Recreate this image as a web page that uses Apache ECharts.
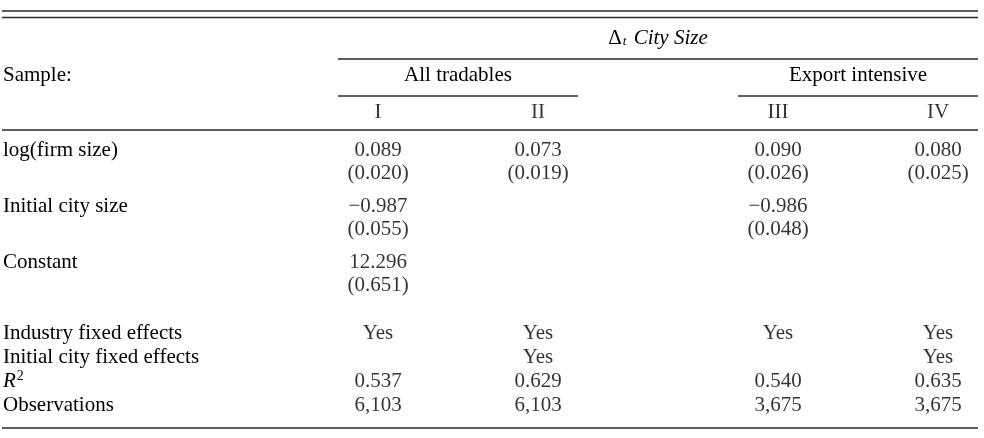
<!DOCTYPE html>
<html>
<head>
<meta charset="utf-8">
<script src="https://cdn.jsdelivr.net/npm/echarts@6/dist/echarts.min.js"></script>
<style>
    html, body { margin: 0; padding: 0; background: #fff; }
    #chart { width: 984px; height: 438px; }
</style>
</head>
<body>
<div id="chart"></div>
<script>
// columns of the table, spread over equal slots (spacer slots keep the gaps)
const colSlots = ['s0', 's1', 's2', 's3', 'I', 's5', 'II', 's7', 's8', 'III', 's10', 'IV'];
const columns = ['I', 'II', 'III', 'IV'];

// header
const headerRows = ['title', 'Sample:', 'number'];
const spanTitle = '{d|Δ}{sub|t}{it| City Size}';
const sampleGroups = ['All tradables', 'Export intensive'];
const groupFrom = ['I', 'III'];
const groupTo = ['II', 'IV'];

// coefficients (estimate + standard error)
const coefRows = ['log(firm size)', 'Initial city size', 'Constant'];
const estLogFirmSize = ['0.089', '0.073', '0.090', '0.080'];
const seLogFirmSize = ['0.020', '0.019', '0.026', '0.025'];
const estInitialCity = ['\u22120.987', null, '\u22120.986', null];
const seInitialCity = ['0.055', null, '0.048', null];
const estConstant = ['12.296', null, null, null];
const seConstant = ['0.651', null, null, null];

// bottom block
const statRows = ['Industry fixed effects', 'Initial city fixed effects', 'R2', 'Observations'];
const industryFE = ['Yes', 'Yes', 'Yes', 'Yes'];
const cityFE = [null, 'Yes', null, 'Yes'];
const rSquared = ['0.537', '0.629', '0.540', '0.635'];
const observations = ['6,103', '6,103', '3,675', '3,675'];

const FONT = '"Liberation Serif", "Times New Roman", serif';
const INK = '#000';
const RULE = '#2a2a2a';

// build cell data
const coefEst = [estLogFirmSize, estInitialCity, estConstant];
const coefSe = [seLogFirmSize, seInitialCity, seConstant];
const coefCells = [];
coefRows.forEach((row, r) => {
    columns.forEach((col, c) => {
        if (coefEst[r][c] != null) {
            coefCells.push([col, row, coefEst[r][c] + '\n(' + coefSe[r][c] + ')']);
        }
    });
});
const statValues = [industryFE, cityFE, rSquared, observations];
const statCells = [];
statRows.forEach((row, r) => {
    columns.forEach((col, c) => {
        if (statValues[r][c] != null) statCells.push([col, row, statValues[r][c]]);
    });
});
const numberCells = columns.map(col => [col, 'number', col]);

const spanTexts = [spanTitle].concat(sampleGroups);
const spanData = [
    [colSlots.indexOf('I'), colSlots.indexOf('IV'), 0],
    [colSlots.indexOf(groupFrom[0]), colSlots.indexOf(groupTo[0]), 1],
    [colSlots.indexOf(groupFrom[1]), colSlots.indexOf(groupTo[1]), 1]
];

const chart = echarts.init(document.getElementById('chart'), null, { renderer: 'canvas' });

const textRich = {
    d: { fontFamily: FONT, fontSize: 21, color: INK },
    sub: { fontFamily: FONT, fontSize: 13, fontStyle: 'italic', color: INK, verticalAlign: 'bottom', padding: [0, 2, 0, 1] },
    it: { fontFamily: FONT, fontSize: 21, fontStyle: 'italic', color: INK },
    sup: { fontFamily: FONT, fontSize: 14, color: INK, verticalAlign: 'top', padding: [0, 0, 0, 1] }
};

function hiddenX(gridIndex) {
    return { type: 'category', gridIndex: gridIndex, data: colSlots, show: false };
}
function rowAxis(gridIndex, rows, formatter, lineHeight) {
    return {
        type: 'category', gridIndex: gridIndex, data: rows, inverse: true,
        axisLine: { show: false }, axisTick: { show: false }, splitLine: { show: false },
        axisLabel: {
            interval: 0, align: 'left', margin: 15,
            fontFamily: FONT, fontSize: 21, color: INK, lineHeight: lineHeight,
            formatter: formatter, rich: textRich
        }
    };
}
function cellSeries(gridIndex, data, lineHeight) {
    return {
        type: 'scatter', xAxisIndex: gridIndex, yAxisIndex: gridIndex,
        data: data, symbol: 'circle', symbolSize: 1, silent: true,
        itemStyle: { color: 'rgba(0,0,0,0)' },
        label: {
            show: true, position: 'inside', formatter: p => p.value[2],
            fontFamily: FONT, fontSize: 21, color: INK, lineHeight: lineHeight
        }
    };
}

const option = {
    animation: false,
    backgroundColor: '#fff',
    grid: [
        { left: 18, width: 960, top: 19.5, height: 111 },
        { left: 18, width: 960, top: 133.5, height: 168 },
        { left: 18, width: 960, top: 321, height: 96 }
    ],
    xAxis: [hiddenX(0), hiddenX(1), hiddenX(2)],
    yAxis: [
        rowAxis(0, headerRows, v => (v === 'Sample:' ? v : ''), 23),
        rowAxis(1, coefRows, v => v + '\n ', 23),
        rowAxis(2, statRows, v => (v === 'R2' ? '{it|R}{sup|2}' : v), 24)
    ],
    series: [
        {
            type: 'custom', xAxisIndex: 0, yAxisIndex: 0, silent: true,
            encode: { x: [0, 1], y: 2 },
            data: spanData,
            renderItem: function (params, api) {
                const a = api.coord([api.value(0), api.value(2)]);
                const b = api.coord([api.value(1), api.value(2)]);
                const half = api.size([1, 0])[0] / 2;
                const x0 = a[0] - half, x1 = b[0] + half;
                const y = a[1];
                return {
                    type: 'group',
                    children: [
                        {
                            type: 'text',
                            style: {
                                text: spanTexts[params.dataIndex], x: (x0 + x1) / 2, y: y,
                                align: 'center', verticalAlign: 'middle',
                                fontFamily: FONT, fontSize: 21, fill: INK, rich: textRich
                            }
                        },
                        {
                            type: 'line',
                            shape: { x1: x0, y1: y + 21, x2: x1, y2: y + 21 },
                            style: { stroke: RULE, lineWidth: 1.4 }
                        }
                    ]
                };
            }
        },
        cellSeries(0, numberCells, 23),
        cellSeries(1, coefCells, 23),
        cellSeries(2, statCells, 24)
    ],
    graphic: [11, 17.5, 130, 428].map(y => ({
        type: 'line', silent: true,
        shape: { x1: 2, y1: y, x2: 978, y2: y },
        style: { stroke: RULE, lineWidth: 1.4 }
    }))
};

chart.setOption(option);
window.addEventListener('resize', () => chart.resize());
</script>
</body>
</html>
